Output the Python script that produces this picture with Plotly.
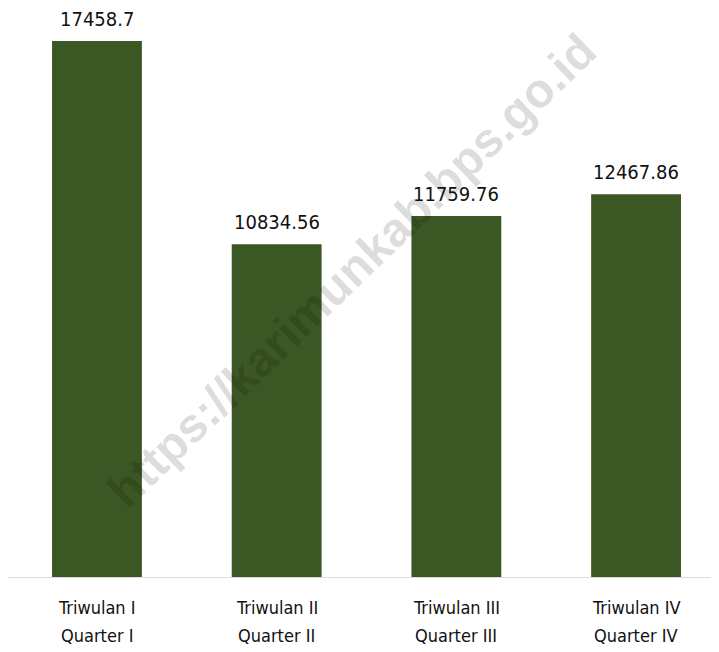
import plotly.graph_objects as go

line1 = ["Triwulan I", "Triwulan II", "Triwulan III", "Triwulan IV"]
line2 = ["Quarter I", "Quarter II", "Quarter III", "Quarter IV"]
values = [17458.7, 10834.56, 11759.76, 12467.86]
labels = ["17458.7", "10834.56", "11759.76", "12467.86"]
watermark = "https://karimunkab.bps.go.id"

FONT = "DejaVu Sans Condensed, Liberation Sans Narrow, sans-serif"
xs = [0, 1, 2, 3]

fig = go.Figure()
fig.add_trace(go.Bar(
    x=xs, y=values, width=0.5,
    marker=dict(color="#3b5723", line=dict(width=0)),
    hoverinfo="skip",
))

# translucent watermark over the bars (drawn first, so labels sit on top)
fig.add_annotation(
    text="<b>" + watermark + "</b>",
    x=0.478, y=0.548, xref="paper", yref="paper",
    showarrow=False, textangle=-44,
    font=dict(family="Liberation Sans, Arial, sans-serif", size=48,
              color="rgba(0,0,0,0.135)"),
)

# value labels above bars
for x, v, t in zip(xs, values, labels):
    fig.add_annotation(x=x, y=v, text=t, showarrow=False, yanchor="bottom",
                       yshift=8,
                       font=dict(family=FONT, size=20, color="#111111"))

# two-line category labels under the axis
for x, a, b in zip(xs, line1, line2):
    fig.add_annotation(x=x, y=-0.0537, yref="paper", text=a, showarrow=False,
                       yanchor="middle", font=dict(family=FONT, size=18, color="#111111"))
    fig.add_annotation(x=x, y=-0.1055, yref="paper", text=b, showarrow=False,
                       yanchor="middle", font=dict(family=FONT, size=18, color="#111111"))

fig.update_layout(
    width=719, height=652,
    margin=dict(l=0, r=0, t=10, b=83),
    paper_bgcolor="white", plot_bgcolor="white",
    showlegend=False,
    xaxis=dict(range=[-0.495, 3.506], showticklabels=False, showgrid=False,
               zeroline=False, showline=True, linecolor="#d9dee4", linewidth=1,
               ticks=""),
    yaxis=dict(range=[0, 18208], visible=False, showgrid=False, zeroline=False),
)

fig.write_html("out.html")
